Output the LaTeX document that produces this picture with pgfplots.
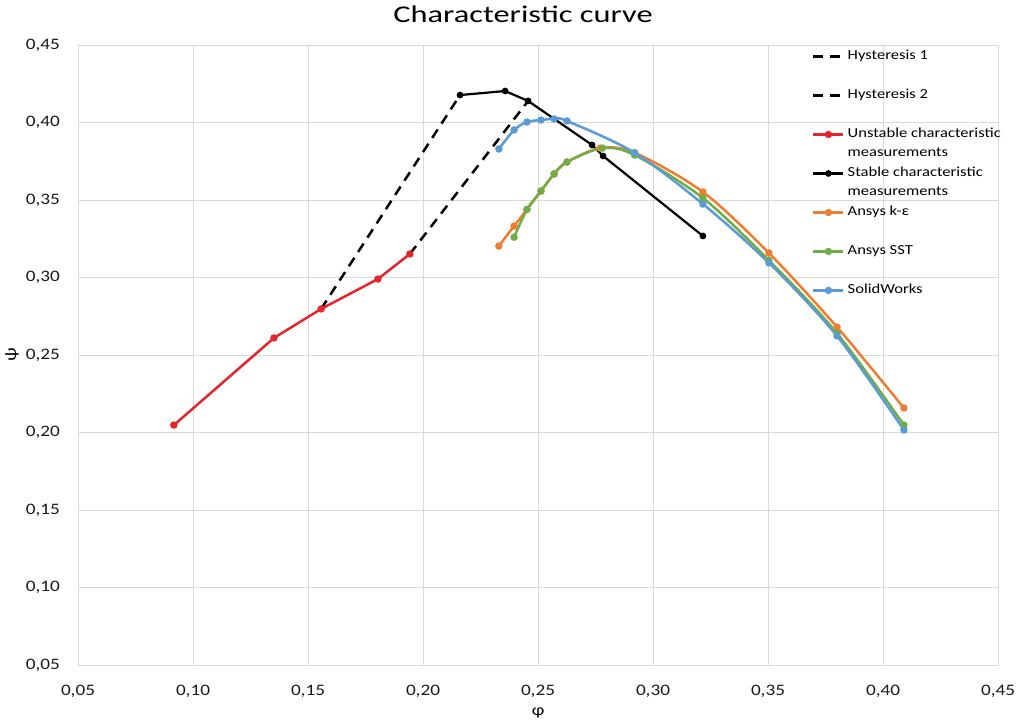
\documentclass[border=0pt]{standalone}
\usepackage{fontspec}
\setmainfont{Carlito}[FakeStretch=1.2]
\newfontfamily\titlefont{Carlito}[FakeStretch=1.35]
\usepackage{pgfplots}
\pgfplotsset{compat=1.18}

\definecolor{cRed}{HTML}{E3262B}
\definecolor{cOrange}{HTML}{ED7D31}
\definecolor{cGreen}{HTML}{70AD47}
\definecolor{cBlue}{HTML}{5B9BD5}
\definecolor{cGrid}{HTML}{D9D9D9}

% legend entries: two lines tall, text on the first one
\newcommand{\lent}[2]{\parbox[t]{175bp}{\strut #1\\\strut #2}}

\begin{document}
\begin{tikzpicture}
\begin{axis}[
    name=ax,
    scale only axis,
    width=920bp, height=620bp,
    xmin=0.05, xmax=0.45, ymin=0.05, ymax=0.45,
    xtick={0.05,0.10,0.15,0.20,0.25,0.30,0.35,0.40,0.45},
    ytick={0.05,0.10,0.15,0.20,0.25,0.30,0.35,0.40,0.45},
    grid=major,
    grid style={cGrid, line width=0.8bp},
    axis line style={draw=none},
    major tick length=0pt,
    /pgf/number format/.cd, fixed, fixed zerofill, precision=2, use comma, assume math mode=true,
    /pgfplots/.cd,
    ticklabel style={font=\fontsize{16bp}{18bp}\selectfont, text=black!90, inner sep=0pt},
    yticklabel style={anchor=east, xshift=-18bp},
    xticklabel style={anchor=base, yshift=-30bp},
    title={Characteristic curve},
    title style={at={(0.5,1)}, anchor=center, yshift=25bp, xshift=-15bp, font=\titlefont\fontsize{24bp}{28bp}\selectfont},
    xlabel={φ},
    ylabel={ψ},
    xlabel style={at={(axis description cs:0.5,0)}, anchor=center, yshift=-48bp, font=\fontsize{16bp}{20bp}\selectfont},
    ylabel style={at={(axis description cs:0,0.5)}, anchor=center, yshift=66bp, font=\fontsize{16bp}{20bp}\selectfont},
    legend style={
        at={(0.7978,0.999)}, anchor=north west,
        draw=none, fill=none, inner sep=0pt,
        column sep=3bp, row sep=0pt,
        cells={anchor=base west},
        nodes={inner sep=0pt, text depth=},
        font=\fontsize{13.8bp}{19.5bp}\selectfont,
    },
    legend image code/.code={
        \draw[mark repeat=2, mark phase=2, #1, yshift=0.3em]
            plot coordinates {(0bp,0bp) (15bp,0bp) (30bp,0bp)};
    },
    every axis plot/.append style={line width=2.5bp, mark size=2.4bp},
]
% Hysteresis 1
\addplot[black, dash pattern=on 10bp off 7bp, no marks] coordinates {
    (0.1557,0.2797) (0.2161,0.4177)};
\addlegendentry{\lent{Hysteresis 1}{}}
% Hysteresis 2
\addplot[black, dash pattern=on 10bp off 7bp, no marks] coordinates {
    (0.1943,0.3152) (0.2457,0.4139)};
\addlegendentry{\lent{Hysteresis 2}{}}
% Unstable characteristic measurements
\addplot[cRed, mark=*] coordinates {
    (0.0917,0.2048) (0.1352,0.2610) (0.1557,0.2797) (0.1804,0.2990) (0.1943,0.3152)};
\addlegendentry{\lent{Unstable characteristic}{measurements}}
% Stable characteristic measurements
\addplot[black, line width=2.2bp, mark=*, mark size=2.2bp] coordinates {
    (0.2161,0.4177) (0.2357,0.4203) (0.2457,0.4139) (0.2735,0.3855) (0.2783,0.3784) (0.3217,0.3268)};
\addlegendentry{\lent{Stable characteristic}{measurements}}
% Ansys k-eps
\addplot[cOrange, mark=*, smooth, tension=0.5] coordinates {
    (0.2330,0.3203) (0.2396,0.3332) (0.2452,0.3439) (0.2513,0.3558) (0.2570,0.3668)
    (0.2626,0.3745) (0.2770,0.3835) (0.2920,0.3805) (0.3217,0.3552) (0.3504,0.3158)
    (0.3800,0.2680) (0.4091,0.2158)};
\addlegendentry{\lent{Ansys k-ε}{}}
% Ansys SST
\addplot[cGreen, mark=*, smooth, tension=0.5] coordinates {
    (0.2396,0.3260) (0.2452,0.3439) (0.2513,0.3558) (0.2570,0.3668) (0.2626,0.3745)
    (0.2780,0.3835) (0.2920,0.3790) (0.3217,0.3513) (0.3504,0.3110) (0.3800,0.2640)
    (0.4091,0.2048)};
\addlegendentry{\lent{Ansys SST}{}}
% SolidWorks
\addplot[cBlue, mark=*, smooth, tension=0.5] coordinates {
    (0.2330,0.3829) (0.2396,0.3952) (0.2452,0.4003) (0.2513,0.4016) (0.2570,0.4023)
    (0.2626,0.4010) (0.2920,0.3805) (0.3217,0.3474) (0.3504,0.3094) (0.3800,0.2623)
    (0.4091,0.2016)};
\addlegendentry{\lent{SolidWorks}{}}
\end{axis}
\path ([shift={(-78bp,-60bp)}]ax.south west) rectangle ([shift={(31bp,45bp)}]ax.north east);
\end{tikzpicture}
\end{document}
